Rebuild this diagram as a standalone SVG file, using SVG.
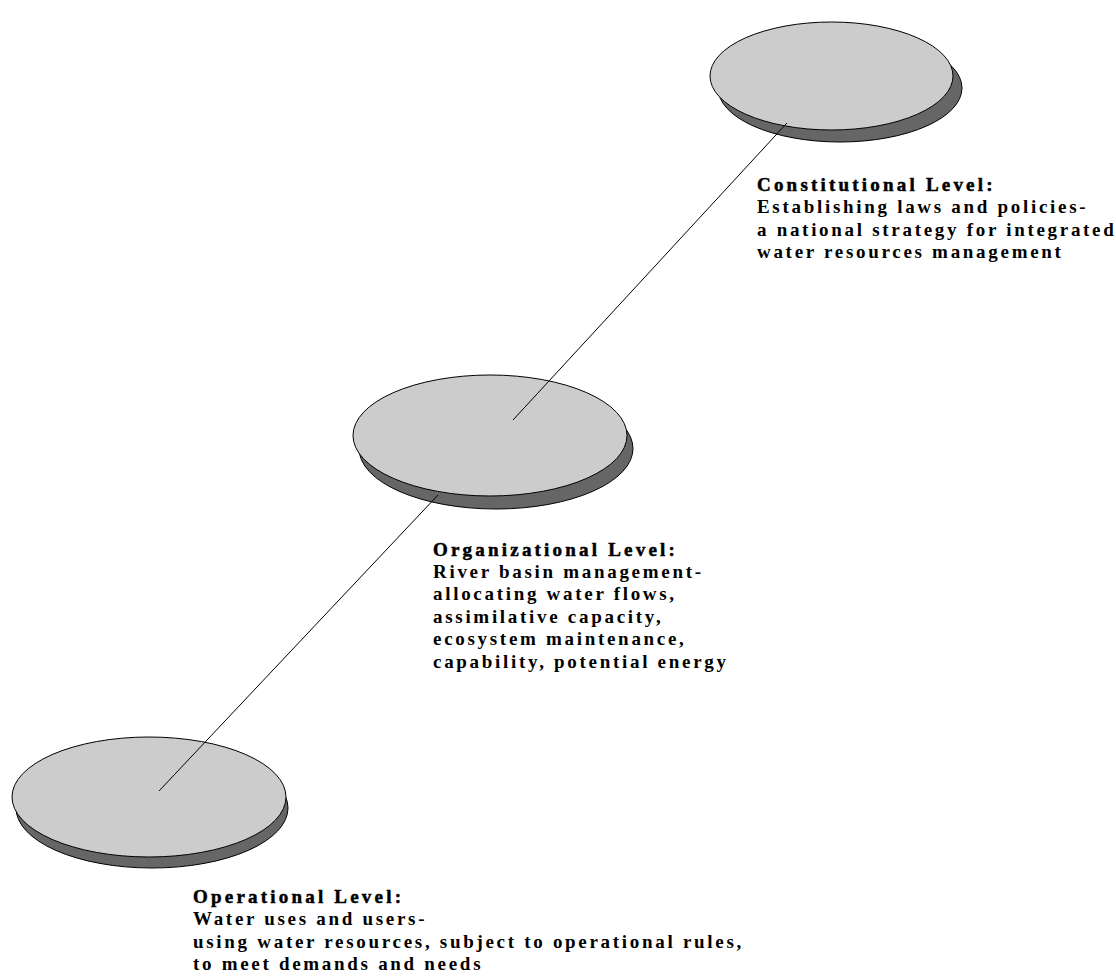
<svg xmlns="http://www.w3.org/2000/svg" width="1116" height="979" viewBox="0 0 1116 979">
<style>
.sh{fill:#666666;stroke:#000;stroke-width:1}
.fc{fill:#cccccc;stroke:#000;stroke-width:1}
.ln{stroke:#000;stroke-width:1;fill:none}
text{font-family:"Liberation Serif","Times New Roman",serif;font-size:19px;fill:#000}
.t{font-weight:bold;letter-spacing:3.2px;stroke:#000;stroke-width:0.5px}
.b{font-weight:bold;letter-spacing:2.7px}
</style>
<rect width="1116" height="979" fill="#fff"/>
<g id="node-constitutional">
<ellipse class="sh" cx="840" cy="88" rx="122" ry="54"/>
<ellipse class="fc" cx="831.5" cy="76" rx="121.5" ry="54"/>
<text class="t" x="757" y="191">Constitutional Level:</text>
<text class="b" x="757" y="213">Establishing laws and policies-</text>
<text class="b" x="757" y="236">a national strategy for integrated</text>
<text class="b" x="757" y="258">water resources management</text>
</g>
<g id="node-organizational">
<ellipse class="sh" cx="496" cy="448.5" rx="137" ry="60.5"/>
<ellipse class="fc" cx="490" cy="435.5" rx="137" ry="60.5"/>
<text class="t" x="433" y="556">Organizational Level:</text>
<text class="b" x="433" y="578">River basin management-</text>
<text class="b" x="433" y="600">allocating water flows,</text>
<text class="b" x="433" y="623">assimilative capacity,</text>
<text class="b" x="433" y="645">ecosystem maintenance,</text>
<text class="b" x="433" y="668">capability, potential energy</text>
</g>
<g id="node-operational">
<ellipse class="sh" cx="152" cy="808" rx="136" ry="60"/>
<ellipse class="fc" cx="149" cy="797" rx="137" ry="60"/>
<text class="t" x="193" y="903">Operational Level:</text>
<text class="b" x="193" y="925">Water uses and users-</text>
<text class="b" x="193" y="948">using water resources, subject to operational rules,</text>
<text class="b" x="193" y="970">to meet demands and needs</text>
</g>
<g id="connectors">
<line class="ln" x1="787" y1="123" x2="513" y2="420"/>
<line class="ln" x1="438" y1="495" x2="159" y2="791"/>
</g>
</svg>
